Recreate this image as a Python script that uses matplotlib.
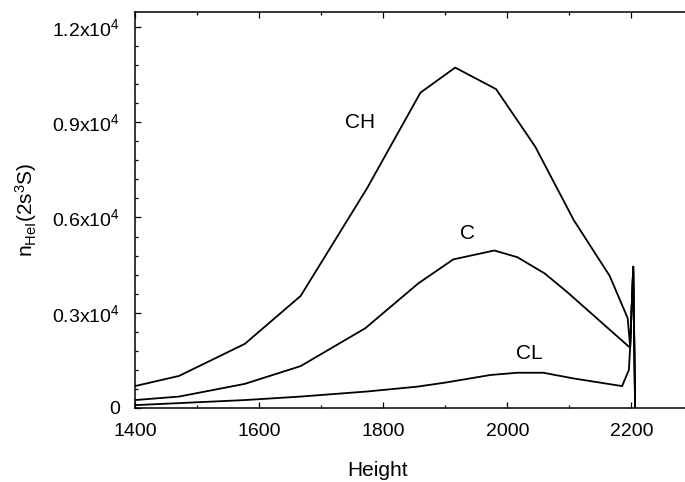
import matplotlib
matplotlib.use("Agg")
import matplotlib.pyplot as plt
import matplotlib.ticker as mticker

plt.rcParams["font.family"] = ["Liberation Sans", "DejaVu Sans"]
plt.rcParams["mathtext.default"] = "regular"
plt.rcParams["mathtext.fontset"] = "custom"
plt.rcParams["mathtext.rm"] = "Liberation Sans"

# data (height vs n_HeI(2s3S)); each curve ends in the spike near 2200
height_ch = [1400, 1471, 1577, 1667, 1774, 1860, 1916, 1982, 2045, 2107, 2165, 2194, 2198, 2203, 2206]
dens_ch = [690, 1010, 2020, 3530, 6920, 9930, 10720, 10040, 8230, 5920, 4160, 2830, 1930, 4450, 0]

height_c = [1400, 1471, 1577, 1667, 1771, 1857, 1913, 1979, 2016, 2060, 2096, 2196, 2198, 2203, 2206]
dens_c = [250, 360, 760, 1320, 2510, 3930, 4680, 4960, 4750, 4240, 3660, 1930, 1930, 4450, 0]

height_cl = [1400, 1577, 1667, 1774, 1854, 1900, 1973, 2016, 2058, 2107, 2185, 2196, 2198, 2203, 2206]
dens_cl = [90, 250, 360, 520, 670, 800, 1040, 1110, 1110, 930, 690, 1200, 1930, 4450, 0]

curve_names = ["CH", "C", "CL"]
ytick_vals = [0, 3000, 6000, 9000, 12000]
ytick_labels = ["0", "0.3x10$^4$", "0.6x10$^4$", "0.9x10$^4$", "1.2x10$^4$"]

fig = plt.figure(figsize=(6.85, 4.82), dpi=100)
ax = fig.add_axes([135 / 685, (482 - 408) / 482, 551 / 685, (408 - 12) / 482])

for hx, dy in [(height_ch, dens_ch), (height_c, dens_c), (height_cl, dens_cl)]:
    ax.plot(hx, dy, color="black", linewidth=1.3)

ax.set_xlim(1400, 2288)
ax.set_ylim(0, 12470)

ax.xaxis.set_major_locator(mticker.MultipleLocator(200))
ax.xaxis.set_minor_locator(mticker.MultipleLocator(100))
ax.set_yticks(ytick_vals)
ax.set_yticklabels(ytick_labels)
ax.yaxis.set_minor_locator(mticker.MultipleLocator(600))

ax.tick_params(which="both", direction="in", top=True, right=False, labelsize=14, width=0.9)
ax.tick_params(which="major", length=4)
ax.tick_params(which="minor", length=2)
ax.tick_params(axis="y", pad=11)
ax.tick_params(axis="x", pad=11)
ax.spines["right"].set_visible(False)
for s in ["left", "bottom", "top"]:
    ax.spines[s].set_linewidth(1.1)

ax.set_xlabel("Height", fontsize=15)
ax.xaxis.set_label_coords(0.44, -0.135)
ax.set_ylabel("n$_{HeI}$(2s$^3$S)", fontsize=15)
ax.yaxis.set_label_coords(-0.175, 0.5)

label_pos = {"CH": (1763, 8980), "C": (1936, 5500), "CL": (2035, 1720)}
for name in curve_names:
    ax.text(*label_pos[name], name, fontsize=15, ha="center", va="center")

fig.savefig("out.png", dpi=100)
